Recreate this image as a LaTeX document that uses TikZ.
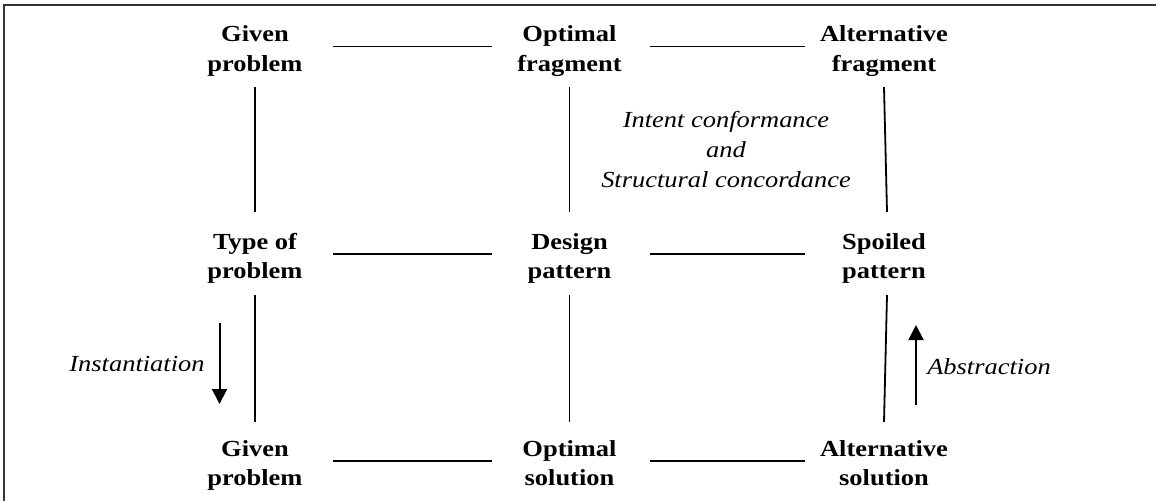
\documentclass[tikz,border=0pt]{standalone}
\usepackage{fontspec}
\setmainfont{Liberation Serif}
\usepackage{graphicx}
\usetikzlibrary{arrows.meta,calc}
\newcommand{\twoln}[2]{\scalebox{1.15}[1]{\begin{tabular}[t]{@{}c@{}}#1\\#2\end{tabular}}}
\newcommand{\threeln}[3]{\scalebox{1.15}[1]{\begin{tabular}[t]{@{}c@{}}#1\\#2\\#3\end{tabular}}}
\newcommand{\oneln}[1]{\scalebox{1.15}[1]{#1}}
\begin{document}
\begin{tikzpicture}[x=1pt,y=-1pt,
  lbl/.style={font=\fontsize{23}{29.5}\selectfont\bfseries, inner sep=0pt, anchor=base},
  ital/.style={font=\fontsize{23}{30}\selectfont\itshape, inner sep=0pt, anchor=base},
  conn/.style={line width=1.8pt},
  arr/.style={line width=2pt, -{Triangle[width=15pt,length=15pt]}},
  frame/.style={line width=2.2pt, black!80}]
\useasboundingbox (0,0) rectangle (1156,501);
% frame
\draw[frame] (4,501) -- (4,5) -- (175,5);
\draw[frame] (175,5) -- (1156,5);
% nodes
\node[lbl] (g1) at (255,41.5) {\twoln{Given}{problem}};
\node[lbl] (o1) at (569.5,41.5) {\twoln{Optimal}{fragment}};
\node[lbl] (a1) at (884,41.5) {\twoln{Alternative}{fragment}};
\node[lbl] (t2) at (255,249) {\twoln{Type of}{problem}};
\node[lbl] (d2) at (569.5,249) {\twoln{Design}{pattern}};
\node[lbl] (s2) at (884,249) {\twoln{Spoiled}{pattern}};
\node[lbl] (g3) at (255,456) {\twoln{Given}{problem}};
\node[lbl] (o3) at (569.5,456) {\twoln{Optimal}{solution}};
\node[lbl] (a3) at (884,456) {\twoln{Alternative}{solution}};
% italic labels
\node[ital] (ic) at (726,127) {\threeln{Intent conformance}{and}{Structural concordance}};
\node[ital] (inst) at (137,371.5) {\oneln{Instantiation}};
\node[ital] (abs) at (989,374) {\oneln{Abstraction}};
% horizontal connectors
\foreach \l/\r in {g1/o1,t2/d2,g3/o3}{
  \draw[conn] ([xshift=78pt,yshift=-5pt]\l.base) -- ([xshift=-78pt,yshift=-5pt]\r.base);}
\foreach \l/\r in {o1/a1,d2/s2,o3/a3}{
  \draw[conn] ([xshift=80.5pt,yshift=-5pt]\l.base) -- ([xshift=-79pt,yshift=-5pt]\r.base);}
% vertical connectors
\foreach \u/\d in {g1/t2,o1/d2}{
  \draw[conn] ([yshift=-45.5pt]\u.base) -- ([yshift=37pt]\d.base);}
\foreach \u/\d in {t2/g3,d2/o3}{
  \draw[conn] ([yshift=-46pt]\u.base) -- ([yshift=34pt]\d.base);}
\draw[conn] ([yshift=-45.5pt]a1.base) -- ([xshift=3pt,yshift=37pt]s2.base);
\draw[conn] ([xshift=3pt,yshift=-46pt]s2.base) -- ([yshift=34pt]a3.base);
% arrows
\coordinate (i1) at (219.5,323);
\coordinate (i2) at (219.5,404);
\draw[arr] (i1) -- (i2);
\coordinate (b1) at (916,405);
\coordinate (b2) at (916,325);
\draw[arr] (b1) -- (b2);
\end{tikzpicture}
\end{document}
